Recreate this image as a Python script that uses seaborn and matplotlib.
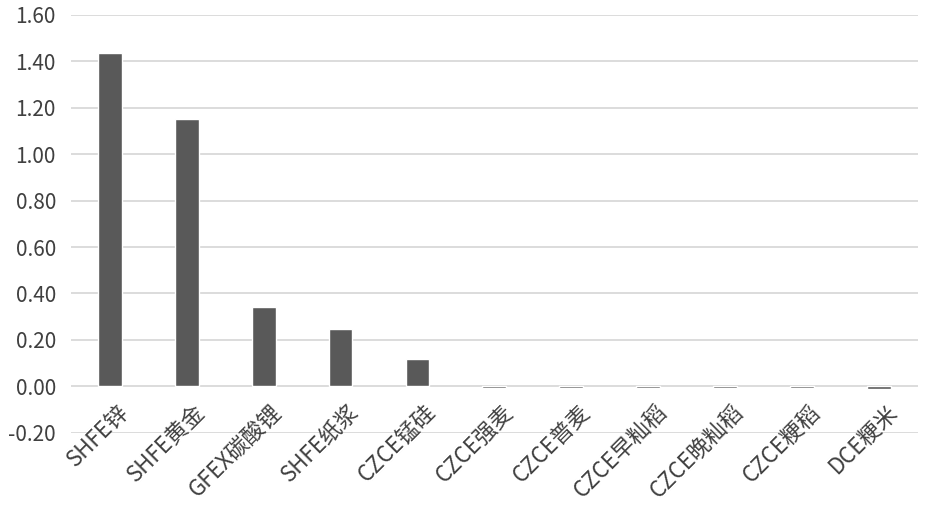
import matplotlib
matplotlib.use("Agg")
import matplotlib.pyplot as plt
import matplotlib.transforms as mtransforms
import seaborn as sns
import pandas as pd

categories = ["SHFE锌", "SHFE黄金", "GFEX碳酸锂", "SHFE纸浆", "CZCE锰硅",
              "CZCE强麦", "CZCE普麦", "CZCE早籼稻", "CZCE晚籼稻", "CZCE粳稻", "DCE粳米"]
values = [1.435, 1.15, 0.343, 0.246, 0.118, -0.007, -0.007, -0.007, -0.007, -0.007, -0.012]
yticks = [-0.20, 0.00, 0.20, 0.40, 0.60, 0.80, 1.00, 1.20, 1.40, 1.60]

sns.set_style("white")
plt.rcParams['font.family'] = ['Noto Sans CJK SC', 'DejaVu Sans']

df = pd.DataFrame({"cat": categories, "val": values})
fig = plt.figure(figsize=(9.25, 5.14), dpi=100)
ax = fig.add_axes([0.077, 0.158, 0.915, 0.813])
sns.barplot(data=df, x="cat", y="val", color="#595959", width=0.31,
            saturation=1, ax=ax, zorder=3)
ax.set_ylim(-0.20, 1.60)
ax.set_yticks(yticks)
ax.set_yticklabels([f"{t:.2f}" for t in yticks], fontsize=15, color="#404040")
ax.yaxis.grid(True, color="#d9d9d9", linewidth=1.3, zorder=0)
ax.set_axisbelow(True)
ax.tick_params(axis='y', length=0, pad=11)
ax.set_xticks(range(len(categories)))
ax.set_xticklabels([])
ax.tick_params(axis='x', length=0)
ax.set_xlabel("")
ax.set_ylabel("")
ax.set_xlim(-0.5, len(categories) - 0.5)
for s in ax.spines.values():
    s.set_visible(False)

off = mtransforms.offset_copy(ax.transData, fig=fig, x=7, y=-14, units='dots')
for i, c in enumerate(categories):
    ax.text(i, 0, c, transform=off, rotation=45, ha='right', va='top',
            rotation_mode='anchor', fontsize=16, color="#404040")

fig.savefig("out.png", dpi=100)
